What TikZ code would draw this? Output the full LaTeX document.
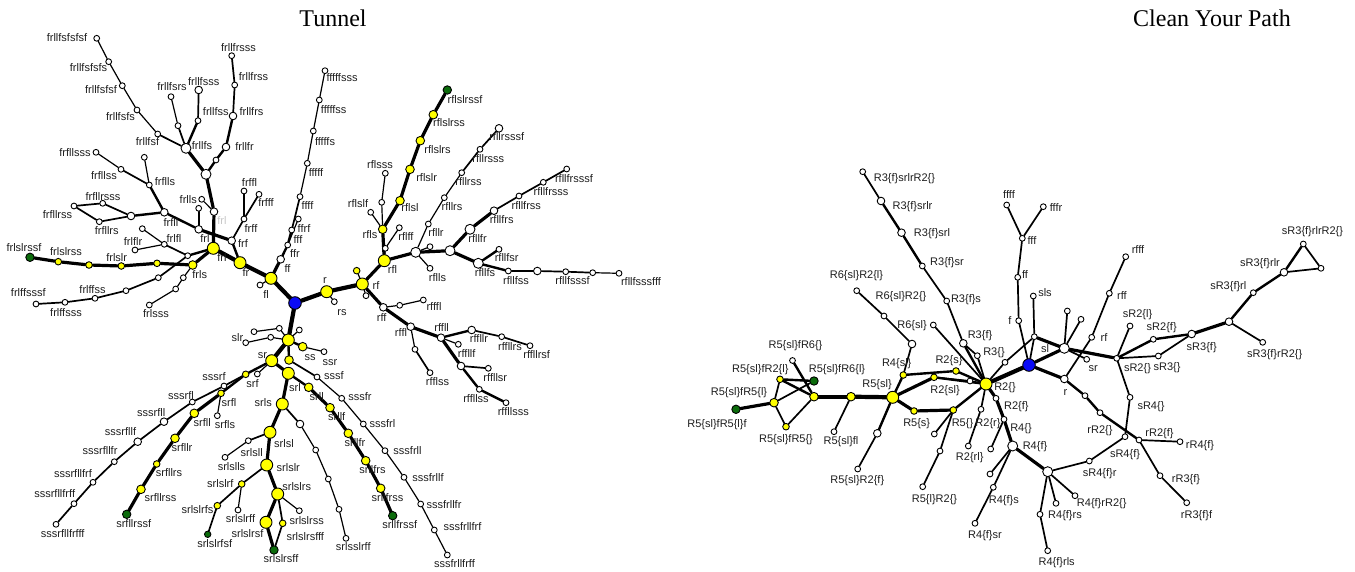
\documentclass[tikz,border=0pt]{standalone}
\usepackage{fontspec}
\setmainfont{Liberation Sans}
\newfontfamily\titlefont{Liberation Serif}
\definecolor{yel}{HTML}{FFFF00}
\definecolor{grn}{HTML}{0B6B0B}
\definecolor{blu}{HTML}{0A0AF5}
\definecolor{lblc}{HTML}{1E1E1E}
\pgfdeclarelayer{edges}
\pgfsetlayers{edges,main}
\begin{document}
\begin{tikzpicture}[x=1pt,y=-1pt,
  nd/.style={circle,draw=black,line width=0.9pt,inner sep=0pt},
  yb/.style={nd,fill=yel,minimum size=12pt},
  ym/.style={nd,fill=yel,minimum size=8.6pt},
  ys/.style={nd,fill=yel,minimum size=6.6pt},
  wb/.style={nd,fill=white,minimum size=10pt},
  wm/.style={nd,fill=white,minimum size=7.6pt},
  ws/.style={nd,fill=white,minimum size=5.8pt},
  gn/.style={nd,fill=grn,minimum size=8.4pt},
  gs/.style={nd,fill=grn,minimum size=6.4pt},
  bl/.style={nd,fill=blu,minimum size=12.6pt},
  lbl/.style={inner sep=0pt,font=\fontsize{11}{13}\selectfont,text=lblc,text height=0.72em,text depth=0pt},
  ttl/.style={inner sep=0pt,font=\titlefont\fontsize{24}{28}\selectfont},
  ea/.style={line width=1.2pt,line cap=round},
  eb/.style={line width=1.7pt,line cap=round},
  ec/.style={line width=2.4pt,line cap=round},
  ed/.style={line width=3.2pt,line cap=round},
  ee/.style={line width=4.2pt,line cap=round}]
\useasboundingbox (0,0) rectangle (1355,572);

% titles
\node[ttl,anchor=base] (title1) at (333,26.7) {Tunnel};
\node[ttl,anchor=base] (title2) at (1212,26.7) {Clean Your Path};

% ---------- Tunnel: vertices ----------
\foreach \n/\s/\x/\y in {
Troot/bl/295/303, Tr/yb/326.7/291.7, Trf/yb/362.3/284, Trs/ws/334.3/301.7, Trfa/ws/366/295.7,
Trfy/ys/356.7/270.7, Trfl/yb/384.3/260.7, Trff/wm/383.3/307.3, Trfff/ws/399.7/305.3, Trfffl/ws/423.3/300,
Trffl/wm/410.7/326.7, Trffls/ws/415/349.3, Trfflss/ws/430/372.7, Trffll/wm/441/337.7, Trffllf/ws/458.3/344.3,
Trffllr/wm/471.7/330, Trffllrs/ws/501.7/336.7, Trffllrsf/ws/530/345.7, Trfflls/wm/461/366, Trffllsr/ws/488.3/368.3,
Trffllss/ws/479.3/389.3, Trffllsss/ws/506/402.7, Trflf/ws/385.3/248.3, Trflff/ws/399.3/227.7, Trfls/ym/382.7/229.3,
Trflsl/ym/400/200.7, Trflss/ws/381.7/202.3, Trflsss/ws/385.3/173.3, Trflslf/ws/370.7/212.3, Trflslr/ym/410/169.3,
Trflslrs/ym/420.3/140.7, Trflslrss/ym/433.3/114.7, Trflslrssf/gn/447.3/90, Trfll/wb/415.7/252.3, Trflls/ws/430/268.3,
Trfllx/ws/430/246.7, Trfllr/ws/428.3/224, Trfllrs/ws/444.3/197.7, Trfllrss/ws/461.7/172.7, Trfllrsss/ws/480/149.3,
Trfllrsssf/wm/499/128.3, Trfllf/wb/450/250.7, Trfllfr/wb/470/229.3, Trfllfrs/wm/494/210.7, Trfllfrss/ws/519/196,
Trfllfrsss/ws/543.3/182.3, Trfllfrsssf/ws/566.7/169, Trfllfs/wb/478.3/263.3, Trfllfsr/ws/499/249.3, Trfllfss/ws/508.3/271,
Trfllfsss/wm/537.3/271, Trfllfsssf/ws/565.7/271.7, Trfllfsssff/ws/592.7/272.7, Trfllfsssfff/ws/619/273.3,
Tf/yb/271/278.3, Tfl/ws/260/285, Tff/wm/280.7/259.3, Tffr/ws/287.7/245, Tfff/ws/291.7/230, Tffrf/ws/298.3/219,
Tffff/ws/300/196.7, Tfffff/ws/307.3/163.3, Tfffffs/ws/313.3/131, Tfffffss/ws/319.3/100, Tfffffsss/ws/325/70.7,
Tfr/yb/240/262.7, Tfrf/wm/231.7/240.7, Tfrff/ws/244/219, Tfrffl/ws/244/191, Tfrfff/ws/259/194.3,
Tfrl/yb/213.3/248.3, Tfrll/wm/214/211.7, Tfrlls/ws/201.7/199.3, Tfrllf/wb/206/174.3, Tfrllfx/ws/216/160,
Tfrllfr/wm/226/147, Tfrllfrs/wm/233/116, Tfrllfrss/ws/234.7/85, Tfrllfrsss/ws/231.7/55.7, Tfrllfs/wb/186/148.3,
Tfrllfsf/ws/157.7/134, Tfrllfsfs/ws/137/110, Tfrllfsfsf/ws/122.3/85.7, Tfrllfsfsfs/ws/108.7/61.7, Tfrllfsfsfsf/ws/96.7/38.3,
Tfrllfsr/ws/178/125.7, Tfrllfsrs/ws/171/96.7, Tfrllfss/ws/198/120.7, Tfrllfsss/wm/198.7/90,
Tfrfl/wm/198.7/229.3, Tfrflx/ws/198.7/208.3, Tfrfll/wm/164.3/212.3, Tfrfllr/wm/131/216, Tfrfllrs/ws/99.3/221.7,
Tfrfllrss/ws/74/206, Tfrfllrsss/ws/102.7/203.3, Tfrflls/ws/149.3/185, Tfrfllsx/ws/144.3/157.3, Tfrfllss/ws/121/169.3,
Tfrfllsss/ws/96/152.3, Tfrlf/ws/187.7/255.7, Tfrlfl/ws/164.3/244.3, Tfrlflx/ws/142.3/228.7, Tfrlflr/ws/135/250,
Tfrls/ym/192.7/265, Tfrlsl/ys/157/263.3, Tfrlslr/ys/121.3/266, Tfrlslrs/ys/89/265, Tfrlslrss/ys/58.3/261.7,
Tfrlslrssf/gn/30/257.3, Tfrlff/ws/158.3/277.7, Tfrlffs/ws/126/290.7, Tfrlffss/ws/95/298.3, Tfrlffsss/ws/65/302.3,
Tfrlffsssf/ws/36/304, Tfrlss/ws/183.3/277.7, Tfrlssx/ws/175.7/289, Tfrlsss/ws/149.3/305,
Ts/yb/288.3/340, Tsl1/ws/279.3/328.3, Tsl2/ws/254/331.7, Tsl3/ws/299.3/330, Tsl4/ws/270.7/337.3, Tsl5/ws/245.7/342.7,
Tss/ym/302.7/346.7, Tssr/ws/324/351.7, Tsr/yb/271.7/360.7, Tsss/ym/289/360, Tsssf/ws/317/377, Tsssfr/ws/341.7/398.3,
Tsssfrl/ws/363.3/424, Tsssfrll/ws/385/450.7, Tsssfrllf/ws/404/477.3, Tsssfrllfr/ws/420.7/504, Tsssfrllfrf/ws/434.3/530,
Tsssfrllfrff/ws/447.3/555, Tsrl/yb/288.3/373.3, Tsrf/ys/245.7/374.3, Tsrx/ws/257.3/374, Tsssrf/ws/224/386,
Tsrfl/ys/221/393.3, Tsrfls/ws/217.3/415.7, Tsrfll/ym/194.3/413.3, Tsrfllr/ym/175/438.3, Tsrfllrs/ys/156.7/464,
Tsrfllrss/ym/141/489.3, Tsrfllrssf/gn/126.7/514.3, Tsssrfl/ws/192.3/402, Tsssrfll/wm/164/421.7, Tsssrfllf/wm/137.7/441.7,
Tsssrfllfr/ws/114.3/461.7, Tsssrfllfrf/ws/93/482.3, Tsssrfllfrff/ws/74/503.7, Tsssrfllfrfff/ws/56/524.3,
Tsrll/ym/308.7/387.3, Tsrllf/ym/330/407.7, Tsrllfr/ym/348.3/433.3, Tsrllfrs/ym/365.7/460.7, Tsrllfrss/ym/380.7/488.3,
Tsrllfrssf/gn/392.7/515.7, Tsrls/yb/282.3/404, Tsrlss/wm/300/424, Tsrlssl/ws/315.7/450, Tsrlsslr/ws/328.3/479,
Tsrlsslrf/ws/339/509.3, Tsrlsslrff/ws/346/538.3, Tsrlsl/yb/270/432.3, Tsrlsll/ws/248.3/440.7, Tsrlslls/ws/225/457.3,
Tsrlslr/yb/266.7/465, Tsrlslrf/ys/241.7/484, Tsrlslrfs/ys/217.3/505.7, Tsrlslrfsf/gs/207.7/534.3, Tsrlslrff/ws/238/510,
Tsrlslrs/yb/277.7/494, Tsrlslrss/ws/299.3/510.7, Tsrlslrsf/yb/266/522.3, Tsrlslrsfff/ys/282.7/523.3, Tsrlslrsff/gn/274/550}
  \node[\s] (\n) at (\x,\y) {};

% ---------- Clean Your Path: vertices ----------
\foreach \n/\s/\x/\y in {
Croot/bl/1029/365, Cf/ws/1018.7/320.7, Cff/ws/1017.7/277.3, Cfff/ws/1022.3/238.3, Cffff/ws/1006.7/205,
Cfffr/ws/1043.3/206.7, Csls/ws/1033.3/296, Csl/ws/1034.3/336.7, Cs/wb/1064.3/348.3, Csa/ws/1067.3/311,
Csb/ws/1081/319.3, Csr/ws/1086.7/359.3, Cr/wm/1064.3/379, Crf/ws/1091.7/337.3, Crff/ws/1109.3/293.3,
Crfff/ws/1125.7/256.7, CrR2a/ws/1085/395.7, CrR2/ws/1100/412.7, CrR2f/ws/1139/440, CrR4f/ws/1180/441.7,
CrR3f/ws/1160/475.7, CrR3ff/ws/1186.7/502.7, CsR2/ws/1116.7/358.3, CsR2l/ws/1130/326, CsR2f/ws/1153.3/339.3,
CsR3/ws/1158.3/356, CsR3f/wm/1191.7/334, CsR3fr/wm/1229/321.7, CsR3frR2/ws/1262.7/342.3, CsR3frl/ws/1253.3/292.7,
CsR3frlr/wm/1284/272.3, CsR3frlrR2/ws/1303.3/244, CsR3frlrx/ws/1321/268.3, CsR4/ws/1130/397.3, CsR4f/ws/1125/436.7,
CsR4fr/ws/1089.3/461, CR2/yb/986/384, CR2f/ws/996/398.3, CR4/ws/1004/419.3, CR4f/wb/1012.7/446,
CR4fr/wb/1047.7/471.7, CR4frR2/ws/1075/495.7, CR4frs/ws/1056/503.3, CR4frl/ws/1040/514.3, CR4frls/ws/1047.7/550.7,
CR4fx/ws/990/474, CR4fs/ws/993.3/487.3, CR4fsr/ws/975/523.3, CR2r/ws/981/409.3, CR2rl/ws/968.3/446,
CR4x/ws/990.7/449, CR5/ys/953.3/410, CR5a/ws/934.3/434, CR5b/ws/940/451, CR5lR2/ws/922.7/486.7,
CR5s/ys/914/411, CR2sl/ys/934/377.3, CR2s/ys/956/371, CR2x/ws/970/381, CR4sl/ys/903.3/375,
CR5sl/yb/892.7/397.3, CR5slf/ym/851/396.7, CR5slfl/ws/834/431.7, CR5slx/wm/877.3/433.3, CR5slR2f/ws/857.7/469,
CR5slfR/ym/814/396.7, CR5slfR6l/gn/814/381, CR5slfR2l/ys/780/379.3, CR5slfR6/ws/792.5/360.5, CR5slfR5l/ym/774/402.7,
CR5slfR5lf/gn/736/409.3, CR5slfR5/ys/786/426.7, CR3/ws/977.3/355.7, CRx/ws/1005/362.3, CR3f/wm/963.3/343.3,
CR3fs/ws/946.7/301, CR3fsr/ws/922.3/266, CR3fsrl/wm/901.5/232.7, CR3fsrlr/wm/881/201, CR3fsrlrR2/ws/862.7/171.7,
CR6slR2l/ws/856.7/290.7, CR6slR2/ws/884/316, CR6x/wm/912/344, CR6sl/ws/933.3/325}
  \node[\s] (\n) at (\x,\y) {};

% ---------- connectors ----------
\begin{pgfonlayer}{edges}
\fill[white] (0,0) rectangle (1355,572);
\foreach \a/\b in {Troot/Tr, Tr/Trf, Troot/Tf, Tf/Tfr, Tfr/Tfrl, Troot/Ts, Ts/Tsr,
  Croot/CR2, CR5sl/CR5slf, CR5slf/CR5slfR}
  \draw[ee] (\a) -- (\b);
\foreach \a/\b in {Trf/Trfl, Trf/Trff, Trff/Trffl, Trffl/Trffll, Trffll/Trfflls, Trfl/Trfls, Trfls/Trflsl,
  Trflsl/Trflslr, Trflslr/Trflslrs, Trflslrs/Trflslrss, Trflslrss/Trflslrssf, Trfl/Trfll, Trfll/Trfllf,
  Trfllf/Trfllfr, Trfllfr/Trfllfrs, Trfllf/Trfllfs, Tf/Tff, Tfrl/Tfrll, Tfrll/Tfrllf, Tfrllf/Tfrllfs,
  Tfrf/Tfrfl, Tfrl/Tfrls, Tfrls/Tfrlsl, Tfrlsl/Tfrlslr, Tfrlslr/Tfrlslrs, Tfrlslrs/Tfrlslrss,
  Tfrlslrss/Tfrlslrssf, Tsr/Tsrl, Tsrl/Tsrls, Tsrls/Tsrlsl, Tsrlsl/Tsrlslr, Tsrlslr/Tsrlslrs,
  Tsrlslrs/Tsrlslrsf, Tsrlslrsf/Tsrlslrsff, Tsrfl/Tsrfll, Tsrfll/Tsrfllr, Tsrfllr/Tsrfllrs,
  Tsrfllrs/Tsrfllrss, Tsrfllrss/Tsrfllrssf, Tsrll/Tsrllf, Tsrllf/Tsrllfr, Tsrllfr/Tsrllfrs,
  Tsrllfrs/Tsrllfrss, Tsrllfrss/Tsrllfrssf,
  Croot/Cs, Cs/CsR2, Croot/Cr, CR2/CR2f, CR2f/CR4, CR4/CR4f, CR4f/CR4fr, CR5slfR5lf/CR5slfR5l,
  CR5sl/CR5s, CR5s/CR5, CR5sl/CR2sl, CsR3f/CsR3fr, Csl/Cs}
  \draw[ed] (\a) -- (\b);
\foreach \a/\b in {Tff/Tffr, Tffr/Tfff, Tfr/Tfrf, Tfrllf/Tfrllfx, Tfrllfx/Tfrllfr, Tfrllfr/Tfrllfrs,
  Tfrllfs/Tfrllfss, Tfrfl/Tfrfll, Tfrfll/Tfrfllr, Tfrfll/Tfrflls, Tfrl/Tfrlf, Trffll/Trffllr,
  Trfflls/Trffllss, Trffllss/Trffllsss, Trfllfs/Trfllfsr, Trfllfs/Trfllfss, Trfllfss/Trfllfsss,
  Ts/Tss, Ts/Tsss, Tsr/Tsrf, Tsrf/Tsrfl, Tsrl/Tsrll,
  CsR2/CsR2f, CsR2f/CsR3f, CsR3fr/CsR3frl, CsR3frl/CsR3frlr, CsR3frlr/CsR3frlrR2, Cr/CrR2a,
  CrR2a/CrR2, CrR2/CrR2f, CR3f/CR2, CR2sl/CR2, CR2s/CR2, CR5/CR2, CR5sl/CR4sl, CR4sl/CR2s,
  CR5sl/CR5slx, CR5slfR/CR5slfR2l, CR5slfR2l/CR5slfR6l, CR5slfR6/CR5slfR, CR3fsrlr/CR3fsrl,
  CR3fsrl/CR3fsr}
  \draw[ec] (\a) -- (\b);
\foreach \a/\b in {Trffls/Trfflss, Trffllr/Trffllrs, Trffllrs/Trffllrsf, Trfflls/Trffllsr,
  Trfllrss/Trfllrsss, Trfllrsss/Trfllrsssf, Trfllfrs/Trfllfrss, Trfllfrss/Trfllfrsss,
  Trfllfrsss/Trfllfrsssf, Trfllfsss/Trfllfsssf, Trfllfsssf/Trfllfsssff, Tfff/Tffff, Tfrf/Tfrff,
  Tfrff/Tfrffl, Tfrff/Tfrfff, Tfrllfrs/Tfrllfrss, Tfrllfrss/Tfrllfrsss, Tfrllfs/Tfrllfsf,
  Tfrllfs/Tfrllfsr, Tfrllfss/Tfrllfsss, Tfrfl/Tfrflx, Tfrfllr/Tfrfllrs, Tfrfllrs/Tfrfllrss,
  Tfrfllrss/Tfrfllrsss, Tfrfllrsss/Tfrfllr, Tfrflls/Tfrfllss, Tfrlf/Tfrlfl, Tfrlf/Tfrlff,
  Tfrlff/Tfrlffs, Tfrlffs/Tfrlffss, Tfrlffss/Tfrlffsss, Tfrlffsss/Tfrlffsssf, Tsss/Tsssf,
  Tsrf/Tsssrf, Tsssrf/Tsssrfl, Tsssrfl/Tsssrfll, Tsssrfll/Tsssrfllf, Tsssrfllf/Tsssrfllfr,
  Tsssrfllfr/Tsssrfllfrf, Tsssrfllfrf/Tsssrfllfrff, Tsssrfllfrff/Tsssrfllfrfff, Tsrls/Tsrlss,
  Tsrlsl/Tsrlsll, Tsrlslr/Tsrlslrf, Tsrlslrf/Tsrlslrfs, Tsrlslrfs/Tsrlslrfsf, Tsrlslrs/Tsrlslrsfff,
  Tsrlslrsfff/Tsrlslrsff,
  Croot/Cf, Cf/Cff, Cff/Cfff, Cfff/Cffff, Cfff/Cfffr, Croot/Csl, Csl/Csls, Csl/CRx, Cs/Csa, Cs/Csb,
  Cs/Csr, CsR2/CsR2l, CsR2/CsR3, CsR3/CsR3f, CsR3frlr/CsR3frlrx, CsR3frlrR2/CsR3frlrx,
  CsR3fr/CsR3frR2, CsR2/CsR4, CsR4/CsR4f, CsR4f/CsR4fr, CsR4fr/CR4fr, Cr/Crf, Crf/Crff, Crff/Crfff,
  CrR2f/CrR4f, CrR2f/CrR3f, CrR3f/CrR3ff, CR4fr/CR4frR2, CR4fr/CR4frs, CR4fr/CR4frl, CR4frl/CR4frls,
  CR4f/CR4fx, CR4f/CR4fs, CR4fs/CR4fsr, CR4/CR4x, CR2/CR2r, CR2r/CR2rl, CR5/CR5a, CR5/CR5b,
  CR5b/CR5lR2, CR2sl/CR2x, CR2x/CR2, CR4sl/CR6x, CR6x/CR6slR2, CR6slR2/CR6slR2l, CR6sl/CR2,
  CR5slf/CR5slfl, CR5slx/CR5slR2f, CR5slfR5l/CR5slfR2l, CR5slfR5l/CR5slfR5, CR5slfR5l/CR5slfR6l,
  CR5slfR5/CR5slfR, CR3fsrlrR2/CR3fsrlr, CR3fsr/CR3fs, CR3fs/CR3f, CR3f/CR3, CR3/CR2, CRx/CR2}
  \draw[eb] (\a) -- (\b);
\foreach \a/\b in {Tr/Trs, Trf/Trfa, Trf/Trfy, Trff/Trfff, Trfff/Trfffl, Trffl/Trffls, Trffll/Trffllf,
  Trfl/Trflf, Trflf/Trflff, Trfls/Trflss, Trflss/Trflsss, Trfls/Trflslf, Trfll/Trflls, Trfll/Trfllx,
  Trfll/Trfllr, Trfllr/Trfllrs, Trfllrs/Trfllrss, Trfllfsssff/Trfllfsssfff, Tf/Tfl, Tffr/Tffrf,
  Tffff/Tfffff, Tfffff/Tfffffs, Tfffffs/Tfffffss, Tfffffss/Tfffffsss, Tfrll/Tfrlls,
  Tfrllfsf/Tfrllfsfs, Tfrllfsfs/Tfrllfsfsf, Tfrllfsfsf/Tfrllfsfsfs, Tfrllfsfsfs/Tfrllfsfsfsf,
  Tfrllfsr/Tfrllfsrs, Tfrflls/Tfrfllsx, Tfrfllss/Tfrfllsss, Tfrlfl/Tfrlflx, Tfrlfl/Tfrlflr,
  Tfrls/Tfrlss, Tfrlss/Tfrlssx, Tfrlssx/Tfrlsss, Ts/Tsl1, Tsl1/Tsl2, Ts/Tsl3, Ts/Tsl4, Tsl4/Tsl5,
  Tss/Tssr, Tsssf/Tsssfr, Tsssfr/Tsssfrl, Tsssfrl/Tsssfrll, Tsssfrll/Tsssfrllf, Tsssfrllf/Tsssfrllfr,
  Tsssfrllfr/Tsssfrllfrf, Tsssfrllfrf/Tsssfrllfrff, Tsr/Tsrx, Tsrfl/Tsrfls, Tsrlss/Tsrlssl,
  Tsrlssl/Tsrlsslr, Tsrlsslr/Tsrlsslrf, Tsrlsslrf/Tsrlsslrff, Tsrlsll/Tsrlslls, Tsrlslrf/Tsrlslrff,
  Tsrlslrs/Tsrlslrss}
  \draw[ea] (\a) -- (\b);
\end{pgfonlayer}

% ---------- Tunnel: labels ----------
\foreach \x/\y/\t [count=\i] in {
67/38.3/frllfsfsfsf, 88.5/67.7/frllfsfsfs, 101/90/frllfsfsf, 120.5/116.7/frllfsfs, 147.5/141.7/frllfsf,
202/145.7/frllfs, 172/86.7/frllfsrs, 203.7/81.7/frllfsss, 215.8/112.3/frllfss, 244.5/147/frllfr,
251.5/112/frllfrs, 253.5/77/frllfrss, 238.5/48/frllfrsss, 75/153.3/frfllsss, 104/175.7/frfllss,
165/181.7/frflls, 103/196.7/frfllrsss, 57.5/215/frfllrss, 106.7/231/frfllrs, 188.3/200/frlls,
171/222.7/frfll, 174/239.3/frlfl, 133/241.7/frlflr, 205/239.3/frl, 222/258.3/frl, 199.7/275/frls,
116.7/258.3/frlslr, 66/252.3/frlslrss, 24/248.3/frlslrssf, 28.3/293.3/frlffsssf, 92.5/290/frlffss,
66/313.3/frlffsss, 156/314.3/frlsss, 246/272.7/fr, 266/295/fl, 287.5/269.3/ff, 295/254/ffr, 298/240/fff,
304/228.7/ffrf, 307.5/206/ffff, 316/172.7/fffff, 325/141.7/fffffs, 333.7/110/fffffss, 342/78.3/fffffsss,
243/244/frf, 251/228.7/frff, 249.5/183.3/frffl, 266/203.3/frfff, 325/280/r, 376/286/rf, 342/311.7/rs,
392.5/270/rfl, 406/237.3/rflff, 370/235/rfls, 410/208.3/rflsl, 380/165/rflsss, 358/204.3/rflslf,
426.7/178.3/rflslr, 437.5/150/rflslrs, 449/123.3/rflslrss, 465/100/rflslrssf, 436/233.3/rfllr,
452/207.3/rfllrs, 468.5/182/rfllrss, 488.3/159.3/rfllrsss, 506.7/137.3/rfllrsssf, 437.5/277.7/rflls,
477.5/239.3/rfllfr, 501.7/220/rfllfrs, 526.3/205.7/rfllfrss, 551/192.3/rfllfrsss, 574/179/rfllfrsssf,
485/272.7/rfllfs, 506.7/258.3/rfllfsr, 516/281/rfllfss, 572.5/281/rfllfsssf, 641/281.7/rfllfsssfff,
381.7/318.3/rff, 434/306.7/rfffl, 401/333.3/rffl, 437.5/381.7/rfflss, 441.7/328.3/rffll,
466.7/354/rffllf, 479/339.3/rffllr, 510/346.7/rffllrs, 536.7/355.3/rffllrsf, 495.3/378.3/rffllsr,
476/399.3/rffllss, 513.3/412.3/rffllsss, 237.5/338.3/slr, 310/356.7/ss, 330/361.7/ssr, 262.5/355/sr,
334/375.7/sssf, 252.5/384/srf, 295/388.3/srl, 316.7/397.3/srll, 360/397.3/sssfr, 382.5/424/sssfrl,
407.5/450.7/sssfrll, 428/478.3/sssfrllf, 444/505/sssfrllfr, 462.5/527/sssfrllfrf, 454.5/564/sssfrllfrff,
263.3/403.3/srls, 336.7/416.7/srllf, 355/443.3/srllfr, 372.5/470/srllfrs, 387.5/497.7/srllfrss,
399.7/525/srllfrssf, 284/444/srlsl, 288.3/468.3/srlslr, 296.7/487.3/srlslrs, 306.7/520.7/srlslrss,
247.5/534/srlslrsf, 305.3/536.7/srlslrsfff, 281/559.3/srlslrsff, 353.3/547.3/srlsslrff,
251.7/452.7/srlsll, 231.5/467/srlslls, 220.3/484/srlslrf, 197.5/510/srlslrfs, 214.7/544.3/srlslrfsf,
240.5/519/srlslrff, 214/376.7/sssrf, 229/403.3/srfl, 225/425/srfls, 202.3/423.3/srfll, 182/448.3/srfllr,
169/473.3/srfllrs, 160.5/498.3/srfllrss, 133.7/524.3/srfllrssf, 181/395.7/sssrfl, 151.3/413.3/sssrfll,
120.5/432.3/sssrfllf, 100/450.7/sssrfllfr, 73/474/sssrfllfrf, 54.7/494/sssrfllfrff, 62.7/534.3/sssrfllfrfff}
  \node[lbl] (tl\i) at (\x,\y) {\t};
\node[lbl,text=black!22] (tfaded) at (222,220.7) {frl};

% ---------- Clean Your Path: labels ----------
\foreach \x/\y/\t [count=\i] in {
1010/320.7/f, 1025/275.3/ff, 1032/241/fff, 1009/195/ffff, 1056/207.7/fffr, 1045/293.3/sls, 1045/349.3/sl,
1093.3/368.3/sr, 1065.5/391.7/r, 1104/338.3/rf, 1122/296/rff, 1138/250/rfff, 1100/430/rR2\{\},
1159.5/432.7/rR2\{f\}, 1200/445/rR4\{f\}, 1186/479.3/rR3\{f\}, 1196.5/515/rR3\{f\}f, 1137.5/368.3/sR2\{\},
1137.5/314.3/sR2\{l\}, 1161.7/326.7/sR2\{f\}, 1167/366.7/sR3\{\}, 1201.7/346.7/sR3\{f\},
1274.7/354.3/sR3\{f\}rR2\{\}, 1228.3/286/sR3\{f\}rl, 1260/263.3/sR3\{f\}rlr, 1312.5/231/sR3\{f\}rlrR2\{\},
1151/406/sR4\{\}, 1125/454.3/sR4\{f\}, 1099.7/473.3/sR4\{f\}r, 1005/386.7/R2\{\}, 1016.3/405.7/R2\{f\},
1021/427.7/R4\{\}, 1035/446/R4\{f\}, 1101.7/502.7/R4\{f\}rR2\{\}, 1065/515/R4\{f\}rs,
1056.7/561.7/R4\{f\}rls, 1003.8/500/R4\{f\}s, 985/535/R4\{f\}sr, 988/422.7/R2\{r\}, 969.7/456.7/R2\{rl\},
962.5/422.7/R5\{\}, 934.5/499.3/R5\{l\}R2\{\}, 916.7/423.3/R5\{s\}, 945/390/R2\{sl\}, 949/360/R2\{s\},
896.7/363.3/R4\{sl\}, 877/384/R5\{sl\}, 841/441/R5\{sl\}fl, 857.3/480/R5\{sl\}R2\{f\},
837/369.3/R5\{sl\}fR6\{l\}, 760.3/369.3/R5\{sl\}fR2\{l\}, 795.5/345/R5\{sl\}fR6\{\},
739/391.7/R5\{sl\}fR5\{l\}, 717/424.3/R5\{sl\}fR5\{l\}f, 786/439/R5\{sl\}fR5\{\}, 994/351.7/R3\{\},
980/335/R3\{f\}, 966/299.3/R3\{f\}s, 947/261.7/R3\{f\}sr, 932/232.7/R3\{f\}srl, 912.5/206/R3\{f\}srlr,
904.5/178/R3\{f\}srlrR2\{\}, 856.5/275/R6\{sl\}R2\{l\}, 901/296/R6\{sl\}R2\{\}, 912/325/R6\{sl\}}
  \node[lbl] (cl\i) at (\x,\y) {\t};
\end{tikzpicture}
\end{document}
